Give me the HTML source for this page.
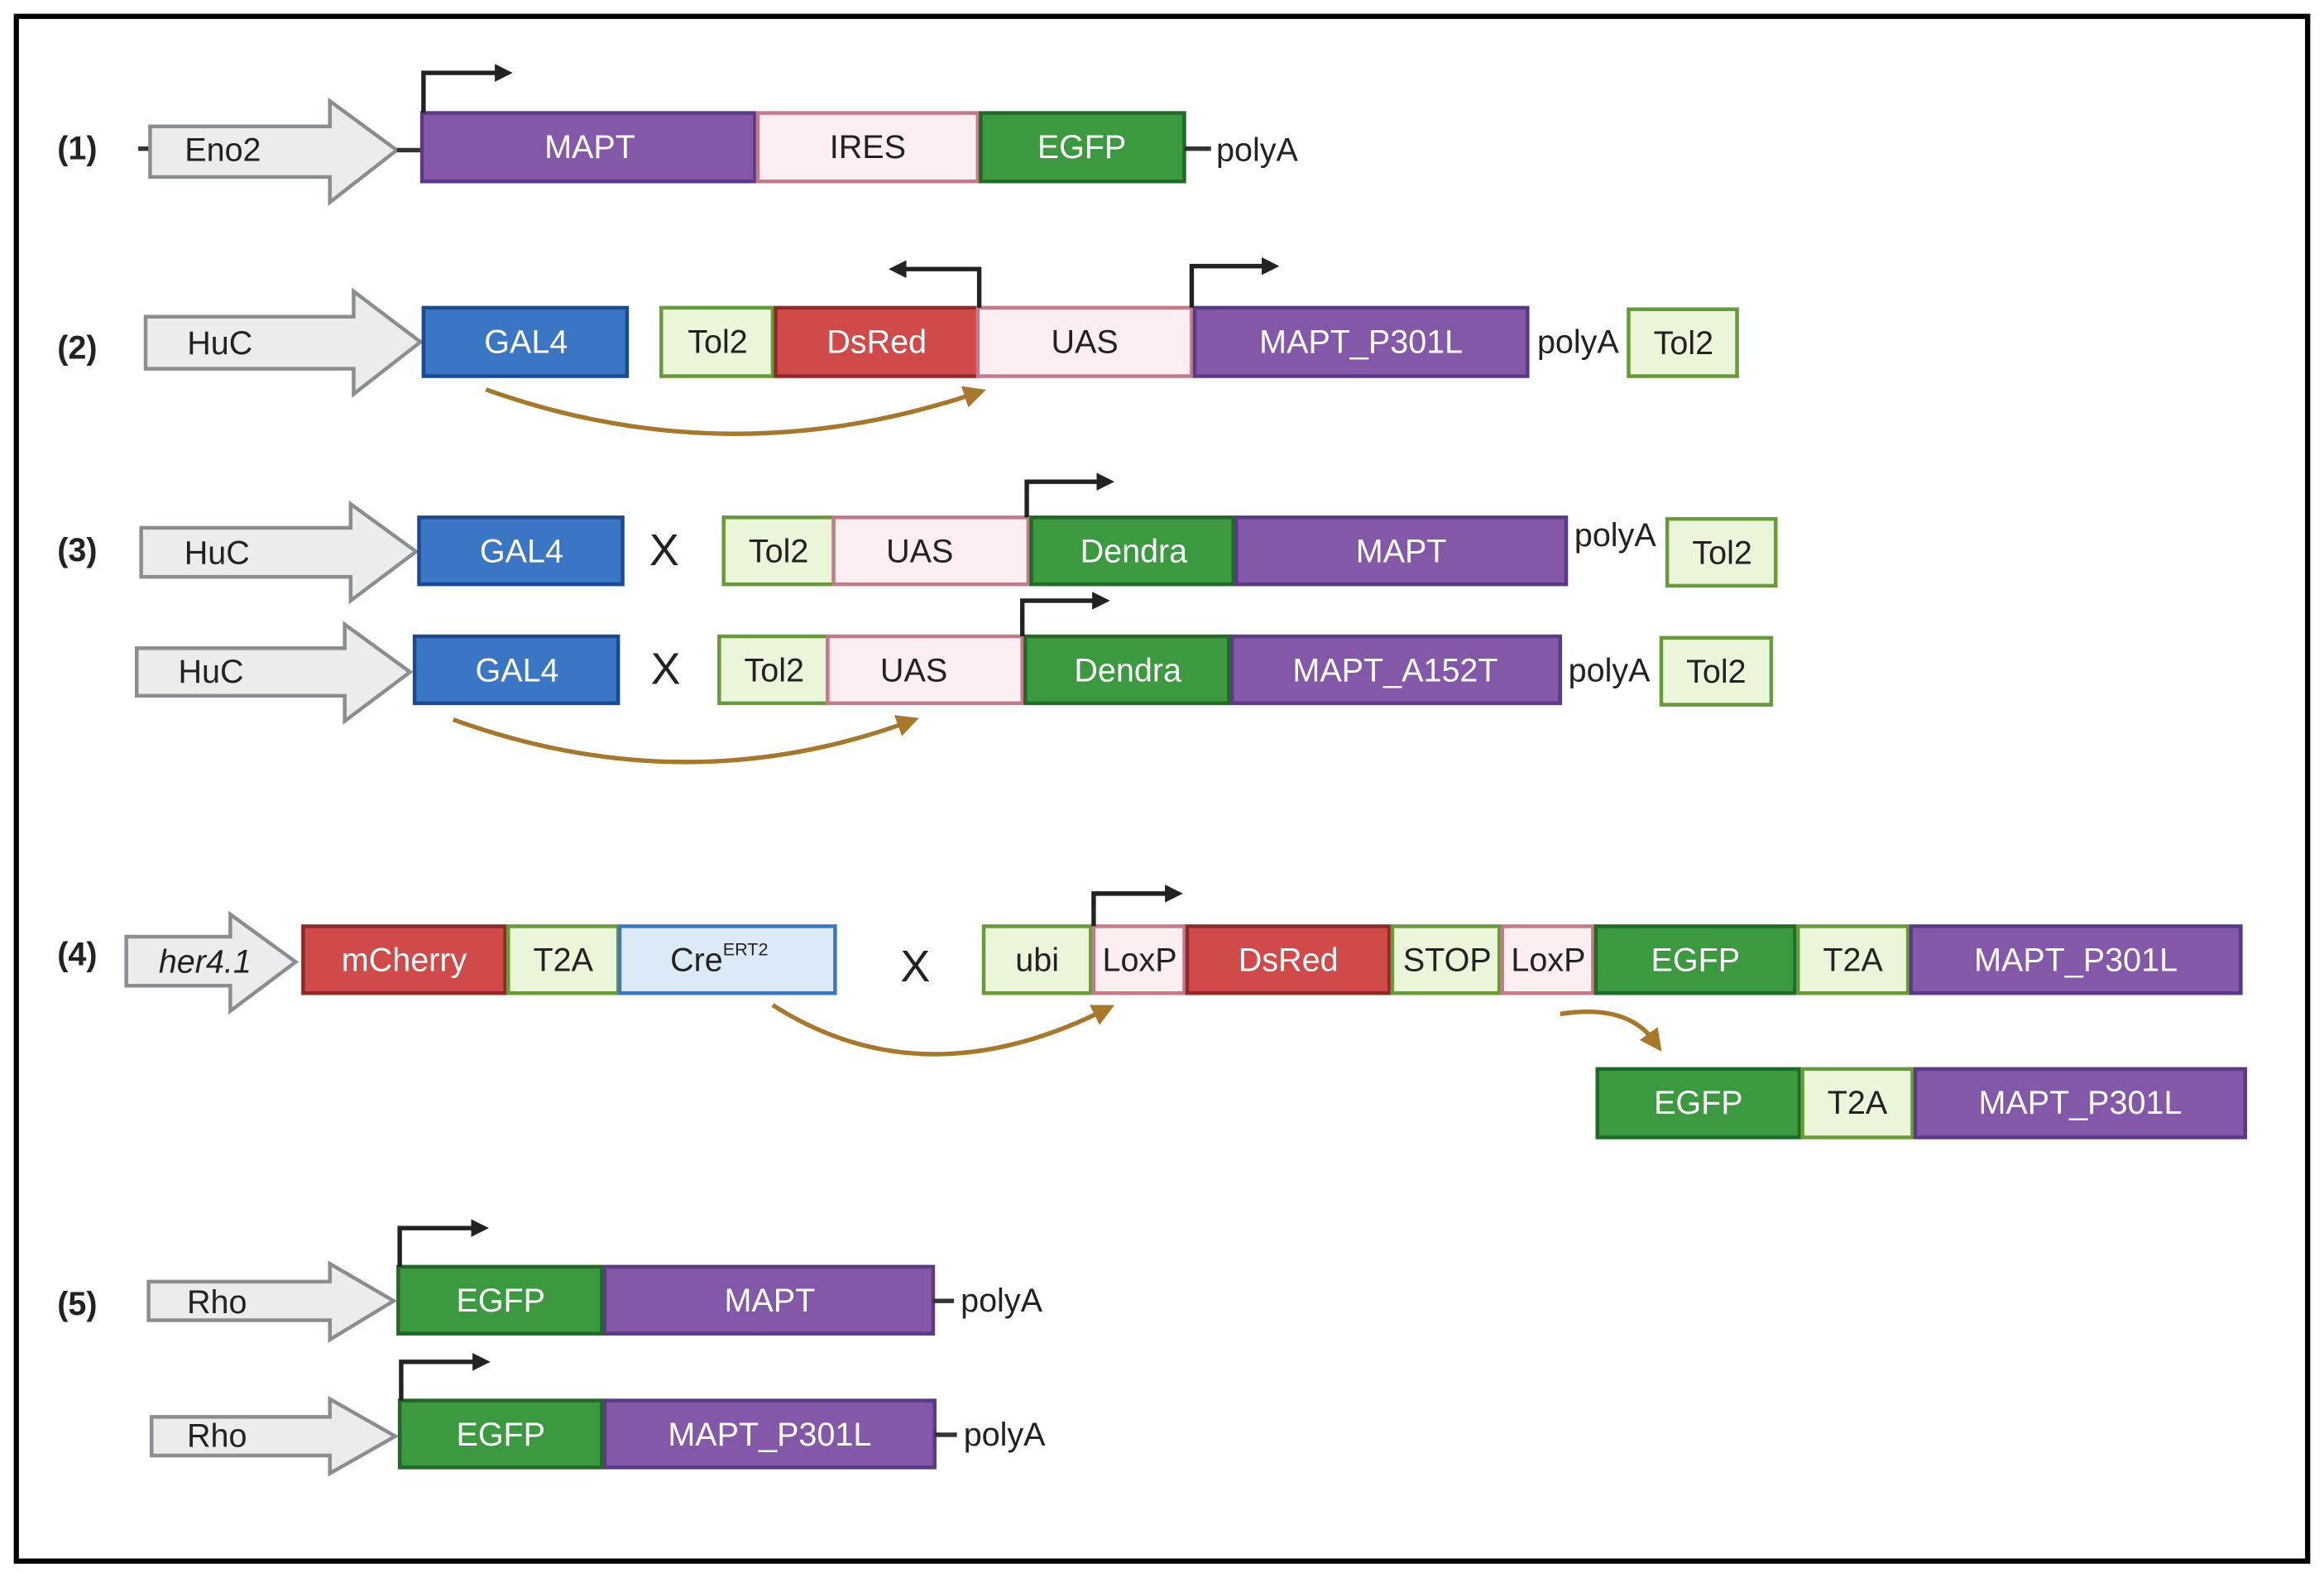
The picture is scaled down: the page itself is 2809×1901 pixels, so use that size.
<!DOCTYPE html>
<html><head><meta charset="utf-8"><style>
html,body{margin:0;padding:0;background:#fff}
svg{display:block}
text{font-family:"Liberation Sans Narrow","Liberation Sans",sans-serif;font-size:22px;dominant-baseline:central;text-anchor:middle}
.w{fill:#fff}.k{fill:#222}
.pu{fill:#8358a8;stroke:#5a3a86;stroke-width:2.5}
.pk{fill:#fdeef2;stroke:#c47a88;stroke-width:2.5}
.gr{fill:#3b9a3f;stroke:#1f6a25;stroke-width:2.5}
.bl{fill:#3b76c5;stroke:#1a4a92;stroke-width:2.5}
.rd{fill:#d14a4a;stroke:#8e2a2a;stroke-width:2.5}
.lg{fill:#ebf5da;stroke:#679a38;stroke-width:2.5}
.lb{fill:#dceaf8;stroke:#3b76c5;stroke-width:2.5}
.ar{fill:#ececec;stroke:#8a8e90;stroke-width:2.5}
.pr{fill:none;stroke:#222;stroke-width:3}
.cv{fill:none;stroke:#a8782a;stroke-width:3}
</style></head><body>
<svg width="2809" height="1901" viewBox="0 0 1564 1058" preserveAspectRatio="none" xmlns="http://www.w3.org/2000/svg">
<defs>
<marker id="h" markerWidth="4" markerHeight="4" refX="1" refY="2" orient="auto" markerUnits="strokeWidth"><path d="M0,0L4,2L0,4z" fill="#222"/></marker>
<marker id="hb" markerWidth="5" markerHeight="5" refX="2" refY="2.5" orient="auto" markerUnits="strokeWidth"><path d="M0,0L5,2.5L0,5z" fill="#a8782a"/></marker>
</defs>
<rect x="11" y="11" width="1542" height="1039" fill="#fff" stroke="#000" stroke-width="3.5"/>

<!-- Row 1 -->
<text x="52" y="100" class="k" style="font-weight:bold">(1)</text>
<line x1="93" y1="100" x2="101" y2="100" stroke="#333" stroke-width="3"/>
<polygon class="ar" points="101,85 222,85 222,68 267,101 222,136 222,119 101,119"/>
<text x="150" y="101" class="k">Eno2</text>
<line x1="267" y1="101" x2="284" y2="101" stroke="#333" stroke-width="3"/>
<rect class="pu" x="284" y="76" width="224" height="46"/><text x="397" y="99" class="w">MAPT</text>
<rect class="pk" x="510" y="76" width="148" height="46"/><text x="584" y="99" class="k">IRES</text>
<rect class="gr" x="660" y="76" width="137" height="46"/><text x="728" y="99" class="w">EGFP</text>
<line x1="797" y1="100" x2="815" y2="100" stroke="#333" stroke-width="3"/><text x="846" y="101" class="k">polyA</text>
<path class="pr" d="M285,76V49H336" marker-end="url(#h)"/>

<!-- Row 2 -->
<text x="52" y="234" class="k" style="font-weight:bold">(2)</text>
<polygon class="ar" points="98,213 238,213 238,196 283,230 238,265 238,248 98,248"/>
<text x="148" y="231" class="k">HuC</text>
<rect class="bl" x="285" y="207" width="137" height="46"/><text x="354" y="230" class="w">GAL4</text>
<rect class="lg" x="445" y="207" width="75" height="46"/><text x="483" y="230" class="k">Tol2</text>
<rect class="rd" x="522" y="207" width="136" height="46"/><text x="590" y="230" class="w">DsRed</text>
<rect class="pk" x="658" y="207" width="144" height="46"/><text x="730" y="230" class="k">UAS</text>
<rect class="pu" x="804" y="207" width="224" height="46"/><text x="916" y="230" class="w">MAPT_P301L</text>
<text x="1062" y="230" class="k">polyA</text>
<rect class="lg" x="1096" y="208" width="73" height="45"/><text x="1133" y="231" class="k">Tol2</text>
<path class="pr" d="M659,207V181H607" marker-end="url(#h)"/>
<path class="pr" d="M802,207V179H852" marker-end="url(#h)"/>
<path class="cv" d="M327,262Q490,320 655,265" marker-end="url(#hb)"/>

<!-- Row 3 -->
<text x="52" y="370" class="k" style="font-weight:bold">(3)</text>
<polygon class="ar" points="95,355 236,355 236,339 280,371 236,404 236,388 95,388"/>
<text x="146" y="372" class="k">HuC</text>
<rect class="bl" x="282" y="348" width="137" height="45"/><text x="351" y="371" class="w">GAL4</text>
<text x="447" y="370" class="k" style="font-size:30px">X</text>
<rect class="lg" x="487" y="348" width="74" height="45"/><text x="524" y="371" class="k">Tol2</text>
<rect class="pk" x="561" y="348" width="131" height="45"/><text x="619" y="371" class="k">UAS</text>
<rect class="gr" x="694" y="348" width="136" height="45"/><text x="763" y="371" class="w">Dendra</text>
<rect class="pu" x="832" y="348" width="222" height="45"/><text x="943" y="371" class="w">MAPT</text>
<text x="1087" y="360" class="k">polyA</text>
<rect class="lg" x="1122" y="349" width="73" height="45"/><text x="1159" y="372" class="k">Tol2</text>
<path class="pr" d="M691,348V324H741" marker-end="url(#h)"/>

<polygon class="ar" points="92,436 232,436 232,420 276,452 232,485 232,468 92,468"/>
<text x="142" y="452" class="k">HuC</text>
<rect class="bl" x="279" y="428" width="137" height="45"/><text x="348" y="451" class="w">GAL4</text>
<text x="448" y="450" class="k" style="font-size:30px">X</text>
<rect class="lg" x="484" y="428" width="73" height="45"/><text x="521" y="451" class="k">Tol2</text>
<rect class="pk" x="557" y="428" width="131" height="45"/><text x="615" y="451" class="k">UAS</text>
<rect class="gr" x="690" y="428" width="137" height="45"/><text x="759" y="451" class="w">Dendra</text>
<rect class="pu" x="829" y="428" width="221" height="45"/><text x="939" y="451" class="w">MAPT_A152T</text>
<text x="1083" y="451" class="k">polyA</text>
<rect class="lg" x="1118" y="429" width="74" height="45"/><text x="1155" y="452" class="k">Tol2</text>
<path class="pr" d="M688,428V404H738" marker-end="url(#h)"/>
<path class="cv" d="M305,484Q460,540 610,486" marker-end="url(#hb)"/>

<!-- Row 4 -->
<text x="52" y="642" class="k" style="font-weight:bold">(4)</text>
<polygon class="ar" points="85,630 155,630 155,615 199,647 155,680 155,663 85,663"/>
<text x="138" y="647" class="k" style="font-style:italic">her4.1</text>
<rect class="rd" x="204" y="623" width="136" height="45"/><text x="272" y="646" class="w">mCherry</text>
<rect class="lg" x="342" y="623" width="74" height="45"/><text x="379" y="646" class="k">T2A</text>
<rect class="lb" x="417" y="623" width="145" height="45"/><text x="484" y="646" class="k">Cre<tspan dy="-8" style="font-size:12px">ERT2</tspan></text>
<text x="616" y="650" class="k" style="font-size:30px">X</text>
<rect class="lg" x="662" y="623" width="72" height="45"/><text x="698" y="646" class="k">ubi</text>
<rect class="pk" x="736" y="623" width="61" height="45"/><text x="767" y="646" class="k">LoxP</text>
<rect class="rd" x="799" y="623" width="136" height="45"/><text x="867" y="646" class="w">DsRed</text>
<rect class="lg" x="937" y="623" width="72" height="45"/><text x="974" y="646" class="k">STOP</text>
<rect class="pk" x="1011" y="623" width="61" height="45"/><text x="1042" y="646" class="k">LoxP</text>
<rect class="gr" x="1074" y="623" width="134" height="45"/><text x="1141" y="646" class="w">EGFP</text>
<rect class="lg" x="1210" y="623" width="74" height="45"/><text x="1247" y="646" class="k">T2A</text>
<rect class="pu" x="1286" y="623" width="222" height="45"/><text x="1397" y="646" class="w">MAPT_P301L</text>
<path class="pr" d="M736,623V601H787" marker-end="url(#h)"/>
<path class="cv" d="M520,676Q620,740 742,680" marker-end="url(#hb)"/>
<path class="cv" d="M1050,682Q1095,675 1113,700" marker-end="url(#hb)"/>
<rect class="gr" x="1075" y="719" width="136" height="46"/><text x="1143" y="742" class="w">EGFP</text>
<rect class="lg" x="1213" y="719" width="74" height="46"/><text x="1250" y="742" class="k">T2A</text>
<rect class="pu" x="1289" y="719" width="222" height="46"/><text x="1400" y="742" class="w">MAPT_P301L</text>

<!-- Row 5 -->
<text x="52" y="877" class="k" style="font-weight:bold">(5)</text>
<polygon class="ar" points="100,862 222,862 222,850 265,875 222,901 222,888 100,888"/>
<text x="146" y="876" class="k">Rho</text>
<rect class="gr" x="268" y="852" width="137" height="45"/><text x="337" y="875" class="w">EGFP</text>
<rect class="pu" x="407" y="852" width="221" height="45"/><text x="518" y="875" class="w">MAPT</text>
<line x1="628" y1="875" x2="642" y2="875" stroke="#333" stroke-width="3"/><text x="674" y="875" class="k">polyA</text>
<path class="pr" d="M269,852V826H320" marker-end="url(#h)"/>

<polygon class="ar" points="102,953 222,953 222,941 266,966 222,991 222,979 102,979"/>
<text x="146" y="966" class="k">Rho</text>
<rect class="gr" x="269" y="942" width="136" height="45"/><text x="337" y="965" class="w">EGFP</text>
<rect class="pu" x="407" y="942" width="222" height="45"/><text x="518" y="965" class="w">MAPT_P301L</text>
<line x1="629" y1="965" x2="644" y2="965" stroke="#333" stroke-width="3"/><text x="676" y="965" class="k">polyA</text>
<path class="pr" d="M270,942V916H321" marker-end="url(#h)"/>
</svg>
</body></html>
